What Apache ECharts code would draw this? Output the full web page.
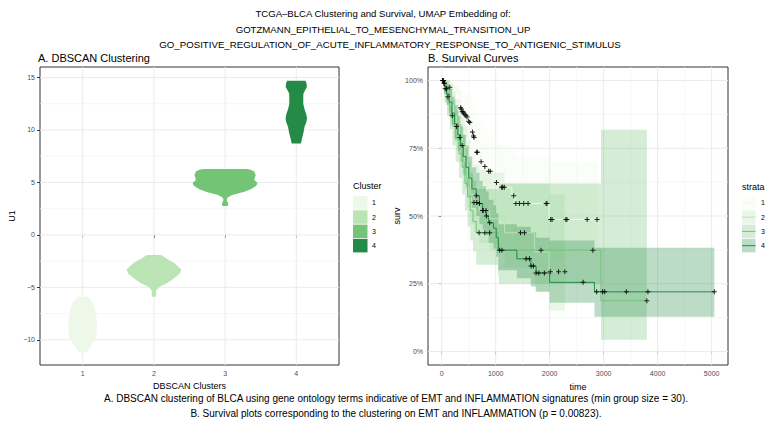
<!DOCTYPE html>
<html>
<head>
<meta charset="utf-8">
<script src="https://cdn.jsdelivr.net/npm/echarts@6/dist/echarts.min.js"></script>
<style>
html, body { margin: 0; padding: 0; background: #fff; }
#chart { width: 766px; height: 426px; }
</style>
</head>
<body>
<div id="chart"></div>
<script>
const FONT = 'Liberation Sans';
const greens = ['#edf8e9', '#bae4b3', '#74c476', '#238b45'];

// tick values
const clusterTicks = [1, 2, 3, 4];
const u1Ticks = [-10, -5, 0, 5, 10, 15];
const u1Minor = [-7.5, -2.5, 2.5, 7.5, 12.5];
const timeTicks = [0, 1000, 2000, 3000, 4000, 5000];
const timeMinor = [500, 1500, 2500, 3500, 4500];
const survTicks = [0, 0.25, 0.5, 0.75, 1];
const survMinor = [0.125, 0.375, 0.625, 0.875];

// violin outlines: U1 value and half width (cluster units)
const violin1U1 = [-11.2, -11.0, -10.6, -10.1, -9.7, -9.0, -8.4, -7.6, -7.0, -6.5, -6.2, -5.9];
const violin1Width = [0.05, 0.075, 0.11, 0.16, 0.19, 0.2, 0.2, 0.19, 0.17, 0.14, 0.11, 0.07];
const violin2U1 = [-5.9, -5.3, -5.0, -4.8, -4.6, -4.15, -3.7, -3.3, -2.7, -2.25, -1.92];
const violin2Width = [0.03, 0.03, 0.07, 0.12, 0.18, 0.28, 0.36, 0.385, 0.29, 0.175, 0.1];
const violin3U1 = [2.75, 2.9, 3.05, 3.2, 3.35, 3.57, 3.8, 4.1, 4.35, 4.58, 4.8, 4.96, 5.22, 5.5, 5.7, 6.05, 6.2, 6.27];
const violin3Width = [0.035, 0.045, 0.04, 0.028, 0.023, 0.035, 0.1, 0.27, 0.36, 0.42, 0.45, 0.454, 0.41, 0.42, 0.43, 0.41, 0.36, 0.31];
const violin4U1 = [8.71, 9.2, 9.7, 10.3, 10.7, 11.1, 11.5, 12.0, 12.5, 13.0, 13.48, 13.8, 14.1, 14.4, 14.68];
const violin4Width = [0.065, 0.081, 0.1, 0.116, 0.14, 0.151, 0.14, 0.115, 0.098, 0.098, 0.1, 0.125, 0.149, 0.145, 0.13];

// survival strata (Kaplan-Meier steps with confidence band)
const strata1Time = [0, 30, 150, 280, 340, 380, 440, 500, 560, 600, 640, 720, 790, 860, 960, 1010, 1100, 1300, 1360, 1990];
const strata1Surv = [1, 0.99, 0.975, 0.96, 0.9, 0.885, 0.87, 0.85, 0.81, 0.795, 0.735, 0.7, 0.683, 0.665, 0.64, 0.624, 0.606, 0.575, 0.546, 0.487];
const strata1Lower = [1, 0.97, 0.94, 0.92, 0.83, 0.81, 0.79, 0.77, 0.72, 0.7, 0.63, 0.59, 0.57, 0.55, 0.52, 0.5, 0.48, 0.44, 0.41, 0.34];
const strata1Upper = [1, 1, 1, 1, 0.97, 0.96, 0.95, 0.94, 0.91, 0.9, 0.85, 0.83, 0.82, 0.8, 0.78, 0.77, 0.76, 0.74, 0.72, 0.7];
const strata1End = 2890;
const censor1Time = [15, 25, 35, 45, 55, 150, 350, 365, 380, 395, 410, 430, 450, 470, 500, 520, 570, 590, 600, 650, 660, 730, 800, 870, 900, 1015, 1110, 1130, 1160, 1335, 1375, 1440, 1520, 1600, 1935, 1950, 2020, 2045, 2300, 2320, 2694, 2878];
const censor1Surv = [1, 1, 1, 0.99, 0.99, 0.975, 0.9, 0.895, 0.885, 0.885, 0.88, 0.875, 0.87, 0.865, 0.85, 0.845, 0.81, 0.795, 0.79, 0.735, 0.735, 0.7, 0.683, 0.665, 0.665, 0.624, 0.606, 0.606, 0.606, 0.575, 0.546, 0.546, 0.546, 0.546, 0.546, 0.546, 0.487, 0.487, 0.487, 0.487, 0.487, 0.487];

const strata2Time = [0, 60, 110, 160, 220, 270, 330, 380, 430, 480, 530, 600, 700, 890, 1165, 1720, 1990];
const strata2Surv = [1, 0.97, 0.94, 0.91, 0.87, 0.83, 0.79, 0.76, 0.7, 0.64, 0.58, 0.55, 0.52, 0.49, 0.438, 0.367, 0.294];
const strata2Lower = [1, 0.92, 0.88, 0.84, 0.79, 0.74, 0.7, 0.66, 0.6, 0.53, 0.47, 0.44, 0.4, 0.37, 0.31, 0.22, 0.15];
const strata2Upper = [1, 1, 1, 0.99, 0.96, 0.93, 0.9, 0.88, 0.83, 0.78, 0.72, 0.69, 0.67, 0.66, 0.62, 0.62, 0.58];
const strata2End = 2282;
const censor2Time = [66, 92, 116, 196, 276, 337, 380, 600, 650, 700, 760, 820, 1460, 1534, 2012, 2165, 2282];
const censor2Surv = [0.97, 0.97, 0.94, 0.87, 0.83, 0.79, 0.76, 0.55, 0.55, 0.546, 0.52, 0.52, 0.438, 0.438, 0.294, 0.294, 0.294];

const strata3Time = [0, 50, 100, 150, 200, 260, 320, 380, 430, 480, 530, 580, 640, 1040, 1060, 2950];
const strata3Surv = [1, 0.97, 0.93, 0.89, 0.84, 0.79, 0.73, 0.68, 0.62, 0.57, 0.52, 0.48, 0.438, 0.4, 0.374, 0.187];
const strata3Lower = [1, 0.92, 0.87, 0.82, 0.76, 0.7, 0.64, 0.58, 0.52, 0.46, 0.41, 0.37, 0.32, 0.28, 0.25, 0.043];
const strata3Upper = [1, 1, 1, 0.97, 0.93, 0.89, 0.84, 0.8, 0.75, 0.7, 0.66, 0.63, 0.6, 0.6, 0.62, 0.818];
const strata3End = 3800;
const censor3Time = [693, 800, 890, 1840, 2800, 3800];
const censor3Surv = [0.438, 0.438, 0.438, 0.374, 0.374, 0.187];

const strata4Time = [0, 40, 90, 140, 190, 240, 300, 350, 400, 450, 500, 560, 640, 700, 760, 820, 870, 960, 1010, 1050, 1393, 1650, 1750, 2000, 2830];
const strata4Surv = [1, 0.98, 0.95, 0.92, 0.88, 0.84, 0.8, 0.76, 0.72, 0.68, 0.64, 0.6, 0.575, 0.546, 0.52, 0.5, 0.475, 0.455, 0.42, 0.374, 0.342, 0.315, 0.29, 0.255, 0.22];
const strata4Lower = [1, 0.95, 0.91, 0.87, 0.83, 0.78, 0.74, 0.7, 0.65, 0.61, 0.57, 0.53, 0.5, 0.47, 0.45, 0.43, 0.4, 0.38, 0.35, 0.3, 0.27, 0.24, 0.22, 0.18, 0.128];
const strata4Upper = [1, 1, 0.99, 0.97, 0.94, 0.91, 0.87, 0.83, 0.8, 0.76, 0.72, 0.68, 0.66, 0.63, 0.61, 0.59, 0.56, 0.54, 0.51, 0.47, 0.46, 0.44, 0.42, 0.41, 0.383];
const strata4End = 5050;
const censor4Time = [640, 768, 830, 890, 1074, 1117, 1564, 1626, 1656, 1700, 1748, 1800, 1902, 2620, 2870, 2980, 3020, 3420, 3820, 5050];
const censor4Surv = [0.575, 0.52, 0.5, 0.475, 0.374, 0.374, 0.342, 0.342, 0.315, 0.315, 0.29, 0.29, 0.29, 0.255, 0.22, 0.22, 0.22, 0.22, 0.22, 0.22];

const violins = [
  [violin1U1, violin1Width], [violin2U1, violin2Width],
  [violin3U1, violin3Width], [violin4U1, violin4Width]
];
const strata = [
  { time: strata1Time, surv: strata1Surv, lower: strata1Lower, upper: strata1Upper, end: strata1End, ct: censor1Time, cs: censor1Surv },
  { time: strata2Time, surv: strata2Surv, lower: strata2Lower, upper: strata2Upper, end: strata2End, ct: censor2Time, cs: censor2Surv },
  { time: strata3Time, surv: strata3Surv, lower: strata3Lower, upper: strata3Upper, end: strata3End, ct: censor3Time, cs: censor3Surv },
  { time: strata4Time, surv: strata4Surv, lower: strata4Lower, upper: strata4Upper, end: strata4End, ct: censor4Time, cs: censor4Surv }
];

function hexAlpha(hex, a) {
  const n = parseInt(hex.slice(1), 16);
  return `rgba(${n >> 16},${(n >> 8) & 255},${n & 255},${a})`;
}

// background grid lines: [value, vertical, major]
function gridLines(xMajor, xMinor, yMajor, yMinor) {
  return [].concat(
    xMinor.map(v => [v, 1, 0]), yMinor.map(v => [v, 0, 0]),
    xMajor.map(v => [v, 1, 1]), yMajor.map(v => [v, 0, 1])
  );
}

function gridLineItem(params, api) {
  const cs = params.coordSys;
  const v = api.value(0);
  const major = api.value(2) === 1;
  let shape;
  if (api.value(1) === 1) {
    const x = api.coord([v, 0])[0];
    shape = { x1: x, y1: cs.y, x2: x, y2: cs.y + cs.height };
  } else {
    const y = api.coord([0, v])[1];
    shape = { x1: cs.x, y1: y, x2: cs.x + cs.width, y2: y };
  }
  return {
    type: 'line', shape,
    style: { stroke: major ? '#ebebeb' : '#f3f3f3', lineWidth: major ? 1 : 0.7 }
  };
}

function violinItem(params, api) {
  const k = params.dataIndex;
  const [ys, ws] = violins[k];
  const x = clusterTicks[k];
  const right = ys.map((y, i) => api.coord([x + ws[i], y]));
  const left = ys.map((y, i) => api.coord([x - ws[i], y])).reverse();
  return { type: 'polygon', shape: { points: right.concat(left) }, style: { fill: greens[k] } };
}

function ribbonItem(params, api) {
  const k = params.dataIndex;
  const s = strata[k];
  const top = [], bottom = [];
  s.time.forEach((t, i) => {
    const next = i + 1 < s.time.length ? s.time[i + 1] : s.end;
    top.push(api.coord([t, s.upper[i]]), api.coord([next, s.upper[i]]));
    bottom.push(api.coord([t, s.lower[i]]), api.coord([next, s.lower[i]]));
  });
  return {
    type: 'polygon', shape: { points: top.concat(bottom.reverse()) },
    style: { fill: hexAlpha(greens[k], 0.3) }
  };
}

const tickLabel = { color: '#4d4d4d', fontSize: 7, fontFamily: FONT };
const axisName = { color: '#000', fontSize: 9, fontFamily: FONT };
const minus = v => String(v).replace('-', '\u2212');

const series = [
  {
    type: 'custom', name: 'gridA', xAxisIndex: 0, yAxisIndex: 0, silent: true, z: 1,
    renderItem: gridLineItem, data: gridLines(clusterTicks, [], u1Ticks, u1Minor)
  },
  {
    type: 'custom', name: 'gridB', xAxisIndex: 1, yAxisIndex: 1, silent: true, z: 1,
    renderItem: gridLineItem, data: gridLines(timeTicks, timeMinor, survTicks, survMinor)
  },
  {
    type: 'custom', name: 'violins', xAxisIndex: 0, yAxisIndex: 0, z: 2,
    renderItem: violinItem,
    data: clusterTicks.map((c, i) => [c, violins[i][0][0]])
  },
  {
    type: 'custom', name: 'bands', xAxisIndex: 1, yAxisIndex: 1, z: 2, clip: true,
    renderItem: ribbonItem,
    data: strata.map((s, i) => [s.time[0], s.surv[0]])
  }
];

strata.forEach((s, k) => {
  const pts = s.time.map((t, i) => [t, s.surv[i]]);
  pts.push([s.end, s.surv[s.surv.length - 1]]);
  series.push({
    type: 'line', name: 'strata ' + (k + 1), xAxisIndex: 1, yAxisIndex: 1, z: 3,
    step: 'end', showSymbol: false, symbol: 'none', data: pts,
    lineStyle: { color: greens[k], width: 1 }
  });
});
strata.forEach((s, k) => {
  series.push({
    type: 'scatter', name: 'censor ' + (k + 1), xAxisIndex: 1, yAxisIndex: 1, z: 4,
    symbol: 'path://M2,0H3V2H5V3H3V5H2V3H0V2H2Z', symbolSize: 5,
    itemStyle: { color: '#000', opacity: 0.85 },
    data: s.ct.map((t, i) => [t, s.cs[i]])
  });
});

// legends and texts
const graphics = [];
const text = (x, y, str, size, align, extra) => graphics.push(Object.assign({
  type: 'text', x, y,
  style: { text: str, fontSize: size, fontFamily: FONT, fill: '#000', align: align || 'left', verticalAlign: 'middle' }
}, extra || {}));

text(383, 13, 'TCGA\u2013BLCA Clustering and Survival, UMAP Embedding of:', 9.6, 'center');
text(383, 29, 'GOTZMANN_EPITHELIAL_TO_MESENCHYMAL_TRANSITION_UP', 9.6, 'center');
text(390, 44, 'GO_POSITIVE_REGULATION_OF_ACUTE_INFLAMMATORY_RESPONSE_TO_ANTIGENIC_STIMULUS', 9.7, 'center');
text(38, 58, 'A. DBSCAN Clustering', 11, 'left');
text(428, 58, 'B. Survival Curves', 11, 'left');
text(396, 398, 'A. DBSCAN clustering of BLCA using gene ontology terms indicative of EMT and INFLAMMATION signatures (min group size = 30).', 10, 'center');
text(396, 413, 'B. Survival plots corresponding to the clustering on EMT and INFLAMMATION (p = 0.00823).', 10, 'center');

text(353, 186, 'Cluster', 9, 'left');
text(742, 187, 'strata', 9, 'left');
clusterTicks.forEach((c, i) => {
  const y = 196 + i * 14.3;
  graphics.push({ type: 'rect', shape: { x: 353, y: y, width: 14.5, height: 13.5 }, style: { fill: greens[i] } });
  text(372, y + 6.8, String(c), 7, 'left');
  graphics.push({ type: 'rect', shape: { x: 742, y: y, width: 13.5, height: 13.5 }, style: { fill: hexAlpha(greens[i], 0.3) } });
  graphics.push({ type: 'line', shape: { x1: 742, y1: y + 6.8, x2: 755.5, y2: y + 6.8 }, style: { stroke: greens[i], lineWidth: 1 } });
  text(761, y + 6.8, String(c), 7, 'left');
});

const option = {
  animation: false,
  backgroundColor: '#fff',
  grid: [
    { left: 40, top: 67, width: 299, height: 298, show: true, borderColor: '#333', borderWidth: 1, backgroundColor: 'transparent' },
    { left: 428, top: 67, width: 300, height: 298, show: true, borderColor: '#333', borderWidth: 1, backgroundColor: 'transparent' }
  ],
  xAxis: [
    {
      type: 'value', gridIndex: 0, min: 0.4, max: 4.6,
      axisLine: { show: false }, splitLine: { show: false },
      axisTick: { show: true, length: 3, customValues: clusterTicks, lineStyle: { color: '#333' } },
      axisLabel: { customValues: clusterTicks, margin: 5, ...tickLabel },
      name: 'DBSCAN Clusters', nameLocation: 'middle', nameGap: 16, nameTextStyle: axisName
    },
    {
      type: 'value', gridIndex: 1, min: -253, max: 5303,
      axisLine: { show: false }, splitLine: { show: false },
      axisTick: { show: true, length: 3, customValues: timeTicks, lineStyle: { color: '#333' } },
      axisLabel: { customValues: timeTicks, margin: 5, formatter: v => String(v), ...tickLabel },
      name: 'time', nameLocation: 'middle', nameGap: 17, nameTextStyle: axisName
    }
  ],
  yAxis: [
    {
      type: 'value', gridIndex: 0, min: -12.4, max: 16,
      axisLine: { show: false }, splitLine: { show: false },
      axisTick: { show: true, length: 3, customValues: u1Ticks, lineStyle: { color: '#333' } },
      axisLabel: { customValues: u1Ticks, margin: 5, formatter: minus, ...tickLabel },
      name: 'U1', nameLocation: 'middle', nameGap: 24, nameTextStyle: axisName
    },
    {
      type: 'value', gridIndex: 1, min: -0.05, max: 1.05,
      axisLine: { show: false }, splitLine: { show: false },
      axisTick: { show: true, length: 3, customValues: survTicks, lineStyle: { color: '#333' } },
      axisLabel: { customValues: survTicks, margin: 5, formatter: v => Math.round(v * 100) + '%', ...tickLabel },
      name: 'surv', nameLocation: 'middle', nameGap: 26, nameTextStyle: axisName
    }
  ],
  graphic: graphics,
  series
};

const chart = echarts.init(document.getElementById('chart'), null, { renderer: 'svg' });
chart.setOption(option);
</script>
</body>
</html>
